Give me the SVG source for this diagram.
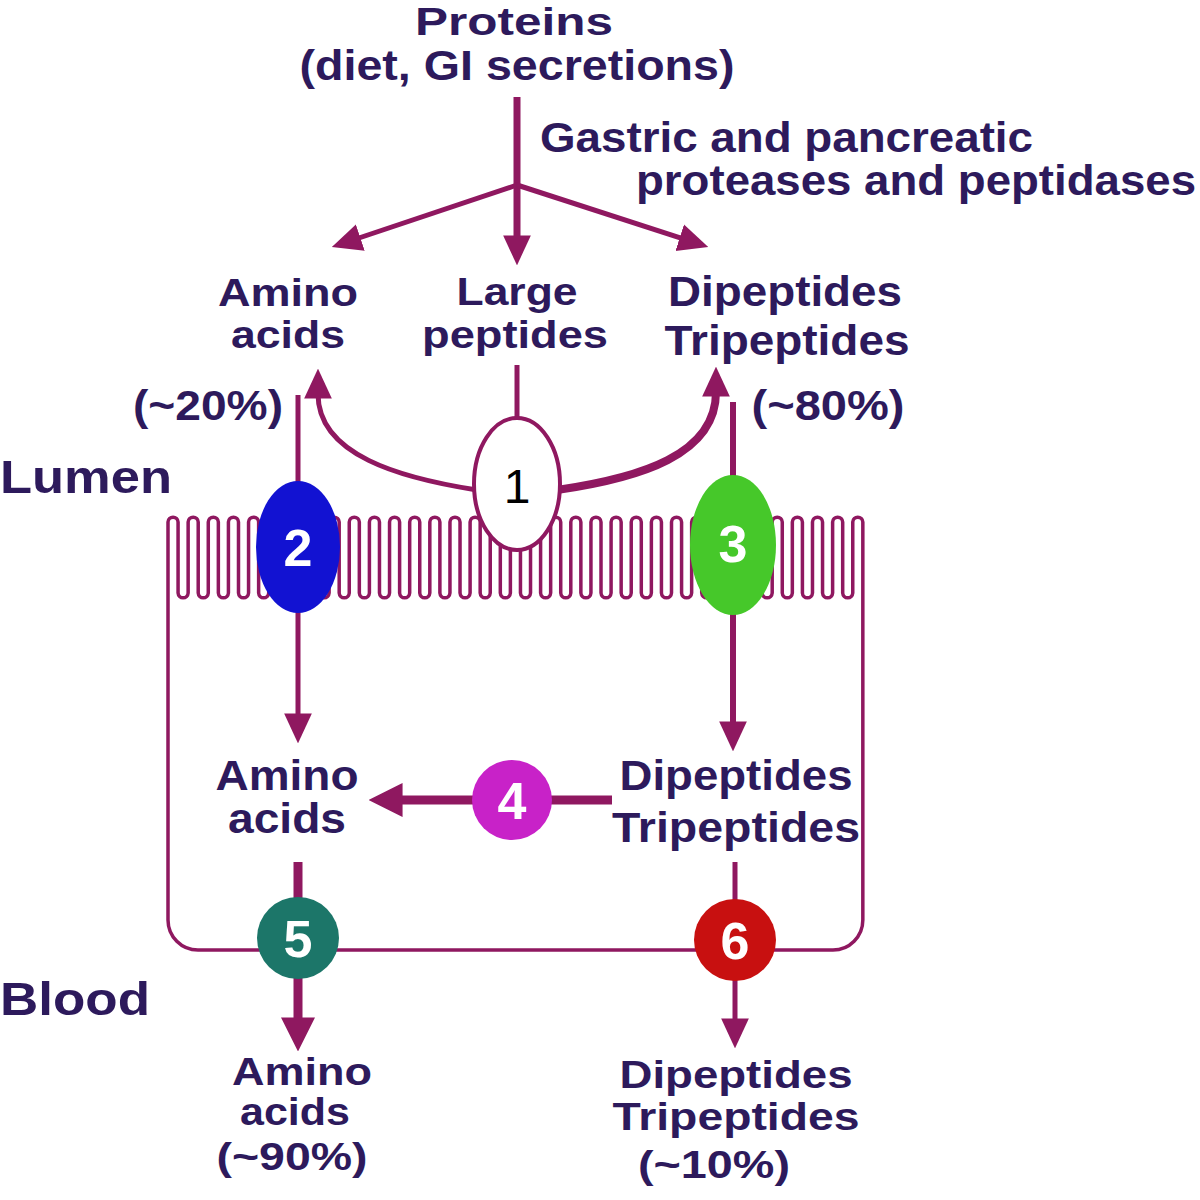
<svg xmlns="http://www.w3.org/2000/svg" width="1200" height="1200" viewBox="0 0 1200 1200">
<style>
.t{font-family:"Liberation Sans",Arial,sans-serif;font-weight:bold;font-size:42px;fill:#2d1a5c;text-anchor:middle}
.c{font-size:39px}
.s{font-family:"Liberation Sans",Arial,sans-serif;font-weight:bold;font-size:46px;fill:#2d1a5c}
.n{font-family:"Liberation Sans",Arial,sans-serif;font-weight:bold;font-size:52px;fill:#ffffff;text-anchor:middle}
.ln{stroke:#8f1860;fill:none;stroke-width:5}
</style>
<defs>
<marker id="ah" markerUnits="userSpaceOnUse" markerWidth="30" markerHeight="30" refX="4" refY="12" orient="auto" viewBox="0 0 26 24"><path d="M0,0 L26,12 L0,24 z" fill="#8f1860"/></marker>
<marker id="ahb" markerUnits="userSpaceOnUse" markerWidth="34" markerHeight="34" refX="4" refY="15" orient="auto" viewBox="0 0 30 30"><path d="M0,0 L30,15 L0,30 z" fill="#8f1860"/></marker>
</defs>
<rect width="1200" height="1200" fill="#ffffff"/>
<g id="membrane">
<path class="ln" style="stroke-width:3.5" d="M168,522
a5.04,5.04 0 0 1 10.07,0v71a5.04,5.04 0 0 0 10.07,0v-71 a5.04,5.04 0 0 1 10.07,0v71a5.04,5.04 0 0 0 10.07,0v-71 a5.04,5.04 0 0 1 10.07,0v71a5.04,5.04 0 0 0 10.07,0v-71 a5.04,5.04 0 0 1 10.07,0v71a5.04,5.04 0 0 0 10.07,0v-71 a5.04,5.04 0 0 1 10.07,0v71a5.04,5.04 0 0 0 10.07,0v-71
a5.04,5.04 0 0 1 10.07,0v71a5.04,5.04 0 0 0 10.07,0v-71 a5.04,5.04 0 0 1 10.07,0v71a5.04,5.04 0 0 0 10.07,0v-71 a5.04,5.04 0 0 1 10.07,0v71a5.04,5.04 0 0 0 10.07,0v-71 a5.04,5.04 0 0 1 10.07,0v71a5.04,5.04 0 0 0 10.07,0v-71 a5.04,5.04 0 0 1 10.07,0v71a5.04,5.04 0 0 0 10.07,0v-71
a5.04,5.04 0 0 1 10.07,0v71a5.04,5.04 0 0 0 10.07,0v-71 a5.04,5.04 0 0 1 10.07,0v71a5.04,5.04 0 0 0 10.07,0v-71 a5.04,5.04 0 0 1 10.07,0v71a5.04,5.04 0 0 0 10.07,0v-71 a5.04,5.04 0 0 1 10.07,0v71a5.04,5.04 0 0 0 10.07,0v-71 a5.04,5.04 0 0 1 10.07,0v71a5.04,5.04 0 0 0 10.07,0v-71
a5.04,5.04 0 0 1 10.07,0v71a5.04,5.04 0 0 0 10.07,0v-71 a5.04,5.04 0 0 1 10.07,0v71a5.04,5.04 0 0 0 10.07,0v-71 a5.04,5.04 0 0 1 10.07,0v71a5.04,5.04 0 0 0 10.07,0v-71 a5.04,5.04 0 0 1 10.07,0v71a5.04,5.04 0 0 0 10.07,0v-71 a5.04,5.04 0 0 1 10.07,0v71a5.04,5.04 0 0 0 10.07,0v-71
a5.04,5.04 0 0 1 10.07,0v71a5.04,5.04 0 0 0 10.07,0v-71 a5.04,5.04 0 0 1 10.07,0v71a5.04,5.04 0 0 0 10.07,0v-71 a5.04,5.04 0 0 1 10.07,0v71a5.04,5.04 0 0 0 10.07,0v-71 a5.04,5.04 0 0 1 10.07,0v71a5.04,5.04 0 0 0 10.07,0v-71 a5.04,5.04 0 0 1 10.07,0v71a5.04,5.04 0 0 0 10.07,0v-71
a5.04,5.04 0 0 1 10.07,0v71a5.04,5.04 0 0 0 10.07,0v-71 a5.04,5.04 0 0 1 10.07,0v71a5.04,5.04 0 0 0 10.07,0v-71 a5.04,5.04 0 0 1 10.07,0v71a5.04,5.04 0 0 0 10.07,0v-71 a5.04,5.04 0 0 1 10.07,0v71a5.04,5.04 0 0 0 10.07,0v-71 a5.04,5.04 0 0 1 10.07,0v71a5.04,5.04 0 0 0 10.07,0v-71
a5.04,5.04 0 0 1 10.07,0v71a5.04,5.04 0 0 0 10.07,0v-71 a5.04,5.04 0 0 1 10.07,0v71a5.04,5.04 0 0 0 10.07,0v-71 a5.04,5.04 0 0 1 10.07,0v71a5.04,5.04 0 0 0 10.07,0v-71 a5.04,5.04 0 0 1 10.07,0v71a5.04,5.04 0 0 0 10.07,0v-71
a5.04,5.04 0 0 1 10.07,0 V920 A30,30 0 0 1 833,950 H198 A30,30 0 0 1 168,920 Z"/>
</g>
<g id="connectors">
<line class="ln" style="stroke-width:7" x1="517" y1="97" x2="517" y2="240" marker-end="url(#ah)"/>
<line class="ln" x1="517" y1="185" x2="355.9" y2="239" marker-end="url(#ah)"/>
<line class="ln" x1="517" y1="185" x2="684.1" y2="239.2" marker-end="url(#ah)"/>
<line class="ln" x1="517" y1="365" x2="517" y2="420"/>
<path class="ln" d="M477,490 C400,478 318,455 318,394" marker-end="url(#ah)"/>
<path class="ln" style="stroke-width:8" d="M557,490 C640,478 716,455 716,392" marker-end="url(#ah)"/>
<line class="ln" x1="298" y1="395" x2="298" y2="718" marker-end="url(#ah)"/>
<line class="ln" style="stroke-width:6" x1="733" y1="402" x2="733" y2="726" marker-end="url(#ah)"/>
<line class="ln" style="stroke-width:9" x1="612" y1="800" x2="398" y2="800" marker-end="url(#ahb)"/>
<line class="ln" style="stroke-width:9" x1="298" y1="862" x2="298" y2="1022" marker-end="url(#ahb)"/>
<line class="ln" x1="735" y1="862" x2="735" y2="1023" marker-end="url(#ah)"/>
</g>
<g id="node1"><ellipse cx="517" cy="484" rx="43" ry="66" fill="#ffffff" stroke="#8f1860" stroke-width="4"/><text class="n" x="517" y="503" style="fill:#000000;font-weight:normal;font-size:48px">1</text></g>
<g id="node2"><ellipse cx="298" cy="547" rx="42" ry="66" fill="#1212d2"/><text class="n" x="298" y="566">2</text></g>
<g id="node3"><ellipse cx="733" cy="545" rx="43" ry="70" fill="#46c82a"/><text class="n" x="733" y="562">3</text></g>
<g id="node4"><circle cx="512" cy="800" r="40" fill="#c822c8"/><text class="n" x="512" y="819">4</text></g>
<g id="node5"><circle cx="298" cy="938" r="41" fill="#1c7669"/><text class="n" x="298" y="957">5</text></g>
<g id="node6"><circle cx="735" cy="940" r="41" fill="#c81010"/><text class="n" x="735" y="959">6</text></g>
<g id="labels">
<text class="t" x="514" y="35" style="font-size:38px" textLength="198" lengthAdjust="spacingAndGlyphs">Proteins</text>
<text class="t" x="517" y="80" textLength="435" lengthAdjust="spacingAndGlyphs">(diet, GI secretions)</text>
<text class="t" x="540" y="152" style="text-anchor:start" textLength="493" lengthAdjust="spacingAndGlyphs">Gastric and pancreatic</text>
<text class="t" x="636" y="195" style="text-anchor:start" textLength="560" lengthAdjust="spacingAndGlyphs">proteases and peptidases</text>
<text class="t c" x="288" y="306" textLength="140" lengthAdjust="spacingAndGlyphs">Amino</text>
<text class="t c" x="288" y="348" textLength="114" lengthAdjust="spacingAndGlyphs">acids</text>
<text class="t c" x="517" y="305" textLength="121" lengthAdjust="spacingAndGlyphs">Large</text>
<text class="t c" x="515" y="348" textLength="186" lengthAdjust="spacingAndGlyphs">peptides</text>
<text class="t" x="785" y="306" textLength="234" lengthAdjust="spacingAndGlyphs">Dipeptides</text>
<text class="t" x="787" y="355" textLength="245" lengthAdjust="spacingAndGlyphs">Tripeptides</text>
<text class="t" x="208" y="420" textLength="150" lengthAdjust="spacingAndGlyphs">(~20%)</text>
<text class="t" x="828" y="420" textLength="153" lengthAdjust="spacingAndGlyphs">(~80%)</text>
<text class="s" x="0" y="493" textLength="172" lengthAdjust="spacingAndGlyphs">Lumen</text>
<text class="t" x="287" y="790" textLength="143" lengthAdjust="spacingAndGlyphs">Amino</text>
<text class="t" x="287" y="833" textLength="118" lengthAdjust="spacingAndGlyphs">acids</text>
<text class="t" x="736" y="790" textLength="233" lengthAdjust="spacingAndGlyphs">Dipeptides</text>
<text class="t" x="736" y="842" textLength="248" lengthAdjust="spacingAndGlyphs">Tripeptides</text>
<text class="s" x="0" y="1015" textLength="150" lengthAdjust="spacingAndGlyphs">Blood</text>
<text class="t c" x="302" y="1085" textLength="140" lengthAdjust="spacingAndGlyphs">Amino</text>
<text class="t c" x="295" y="1125" textLength="110" lengthAdjust="spacingAndGlyphs">acids</text>
<text class="t c" x="292" y="1170" textLength="151" lengthAdjust="spacingAndGlyphs">(~90%)</text>
<text class="t c" x="736" y="1088" textLength="233" lengthAdjust="spacingAndGlyphs">Dipeptides</text>
<text class="t c" x="736" y="1130" textLength="247" lengthAdjust="spacingAndGlyphs">Tripeptides</text>
<text class="t c" x="714" y="1178" textLength="152" lengthAdjust="spacingAndGlyphs">(~10%)</text>
</g>
</svg>
